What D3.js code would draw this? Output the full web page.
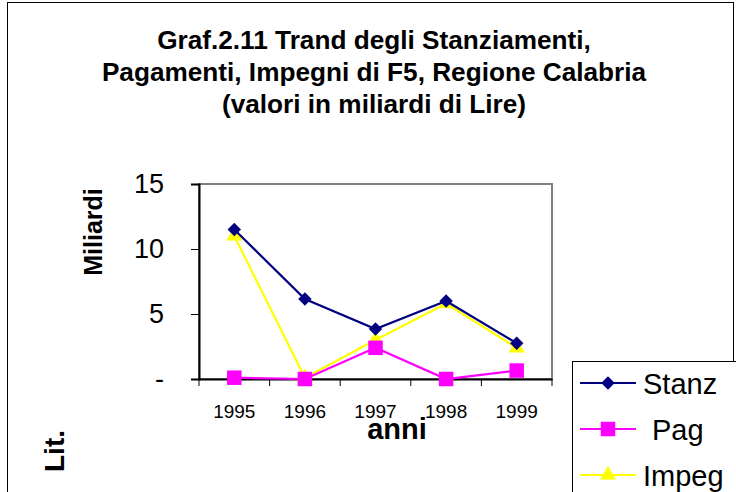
<!DOCTYPE html>
<html>
<head>
<meta charset="utf-8">
<script src="https://cdn.jsdelivr.net/npm/d3@7"></script>
<style>
body { margin: 0; background: #fff; }
svg { font-family: "Liberation Sans", Arial, sans-serif; }
</style>
</head>
<body>
<div class="chart"></div>
<script>
const years = ["1995", "1996", "1997", "1998", "1999"];
const stanz = [11.5, 6.15, 3.85, 6.0, 2.75];
const pag = [0.1, 0.0, 2.4, 0.0, 0.65];
const impeg = [11.0, 0.1, 3.0, 5.8, 2.4];
const yTicks = [0, 5, 10, 15];

const w = 736, h = 492;
const plotL = 199, plotR = 552, plotT = 184, plotB = 379;

const svg = d3.select(".chart")
  .append("svg")
  .attr("width", w)
  .attr("height", h);

// outer frame
svg.append("rect")
  .attr("x", 7.5).attr("y", 2.5)
  .attr("width", 726).attr("height", 500)
  .attr("fill", "#fff").attr("stroke", "#000").attr("stroke-width", 1);

// title
const title = ["Graf.2.11 Trand degli Stanziamenti,",
  "Pagamenti, Impegni di F5, Regione Calabria",
  "(valori in miliardi di Lire)"];
svg.selectAll(".title")
  .data(title)
  .enter()
  .append("text")
  .attr("class", "title")
  .attr("x", 374)
  .attr("y", (d, i) => 49 + i * 32)
  .attr("text-anchor", "middle")
  .attr("font-size", 26.2)
  .attr("font-weight", "bold")
  .text(d => d);

const xScale = d3.scaleBand()
  .domain(years)
  .range([plotL, plotR]);
const yScale = d3.scaleLinear()
  .domain([0, 15])
  .range([plotB, plotT]);

// plot area border (top/right grey)
svg.append("rect")
  .attr("x", plotL).attr("y", plotT)
  .attr("width", plotR - plotL).attr("height", plotB - plotT)
  .attr("fill", "none").attr("stroke", "#808080").attr("stroke-width", 2);

const xAxis = d3.axisBottom(xScale).tickSize(0).tickFormat("");
const gx = svg.append("g")
  .attr("transform", "translate(0," + plotB + ")")
  .call(xAxis);
gx.select(".domain").attr("stroke", "#000").attr("stroke-width", 2);
// tick marks at category boundaries
gx.selectAll(".bound")
  .data(years.concat(["end"]))
  .enter()
  .append("line")
  .attr("x1", (d, i) => plotL + i * xScale.step())
  .attr("x2", (d, i) => plotL + i * xScale.step())
  .attr("y1", 0).attr("y2", 7)
  .attr("stroke", "#000");
gx.selectAll(".lab")
  .data(years)
  .enter()
  .append("text")
  .attr("x", d => xScale(d) + xScale.bandwidth() / 2)
  .attr("y", 39)
  .attr("text-anchor", "middle")
  .attr("font-size", 19)
  .attr("fill", "#000")
  .text(d => d);

const yAxis = d3.axisLeft(yScale)
  .tickValues(yTicks)
  .tickSize(8)
  .tickPadding(27)
  .tickFormat(d => d === 0 ? "-" : d);
const gy = svg.append("g")
  .attr("transform", "translate(" + plotL + ",0)")
  .call(yAxis);
gy.select(".domain").attr("stroke", "#000").attr("stroke-width", 2);
gy.selectAll("text")
  .attr("font-size", 27)
  .attr("font-family", "Liberation Sans, Arial, sans-serif");

// axis titles
svg.append("text")
  .attr("transform", "translate(102,232) rotate(-90)")
  .attr("text-anchor", "middle")
  .attr("font-size", 25)
  .attr("font-weight", "bold")
  .text("Miliardi");
svg.append("text")
  .attr("x", 397).attr("y", 439)
  .attr("text-anchor", "middle")
  .attr("font-size", 29)
  .attr("font-weight", "bold")
  .text("anni");
svg.append("text")
  .attr("transform", "translate(64,451) rotate(-90)")
  .attr("text-anchor", "middle")
  .attr("font-size", 28)
  .attr("font-weight", "bold")
  .text("Lit.");

const series = [
  { name: "Stanz", values: stanz, color: "#000080", shape: d3.symbolSquare, size: 90, rot: 45 },
  { name: "Pag", values: pag, color: "#ff00ff", shape: d3.symbolSquare, size: 210, rot: 0 },
  { name: "Impeg", values: impeg, color: "#ffff00", shape: d3.symbolTriangle, size: 110, rot: 0 }
];

const line = d3.line()
  .x((d, i) => xScale(years[i]) + xScale.bandwidth() / 2)
  .y(d => yScale(d));

series.slice().reverse().forEach(s => {
  svg.append("path")
    .attr("d", line(s.values))
    .attr("fill", "none")
    .attr("stroke", s.color)
    .attr("stroke-width", 2.2);
  svg.selectAll(".m-" + s.name)
    .data(s.values)
    .enter()
    .append("path")
    .attr("d", d3.symbol().type(s.shape).size(s.size))
    .attr("transform", (d, i) => "translate(" + (xScale(years[i]) + xScale.bandwidth() / 2) + "," + yScale(d) + ") rotate(" + s.rot + ")")
    .attr("fill", s.color);
});

// legend
const legend = svg.append("g");
legend.append("rect")
  .attr("x", 572.5).attr("y", 361.5)
  .attr("width", 200).attr("height", 200)
  .attr("fill", "#fff").attr("stroke", "#000");
series.forEach((s, i) => {
  const y = 383 + i * 46;
  legend.append("line")
    .attr("x1", 580).attr("x2", 636)
    .attr("y1", y).attr("y2", y)
    .attr("stroke", s.color).attr("stroke-width", 2.2);
  legend.append("path")
    .attr("d", d3.symbol().type(s.shape).size(s.size))
    .attr("transform", "translate(608," + y + ") rotate(" + s.rot + ")")
    .attr("fill", s.color);
  legend.append("text")
    .attr("x", s.name === "Pag" ? 652 : 643)
    .attr("y", y + 11)
    .attr("font-size", 29)
    .text(s.name);
});
</script>
</body>
</html>
